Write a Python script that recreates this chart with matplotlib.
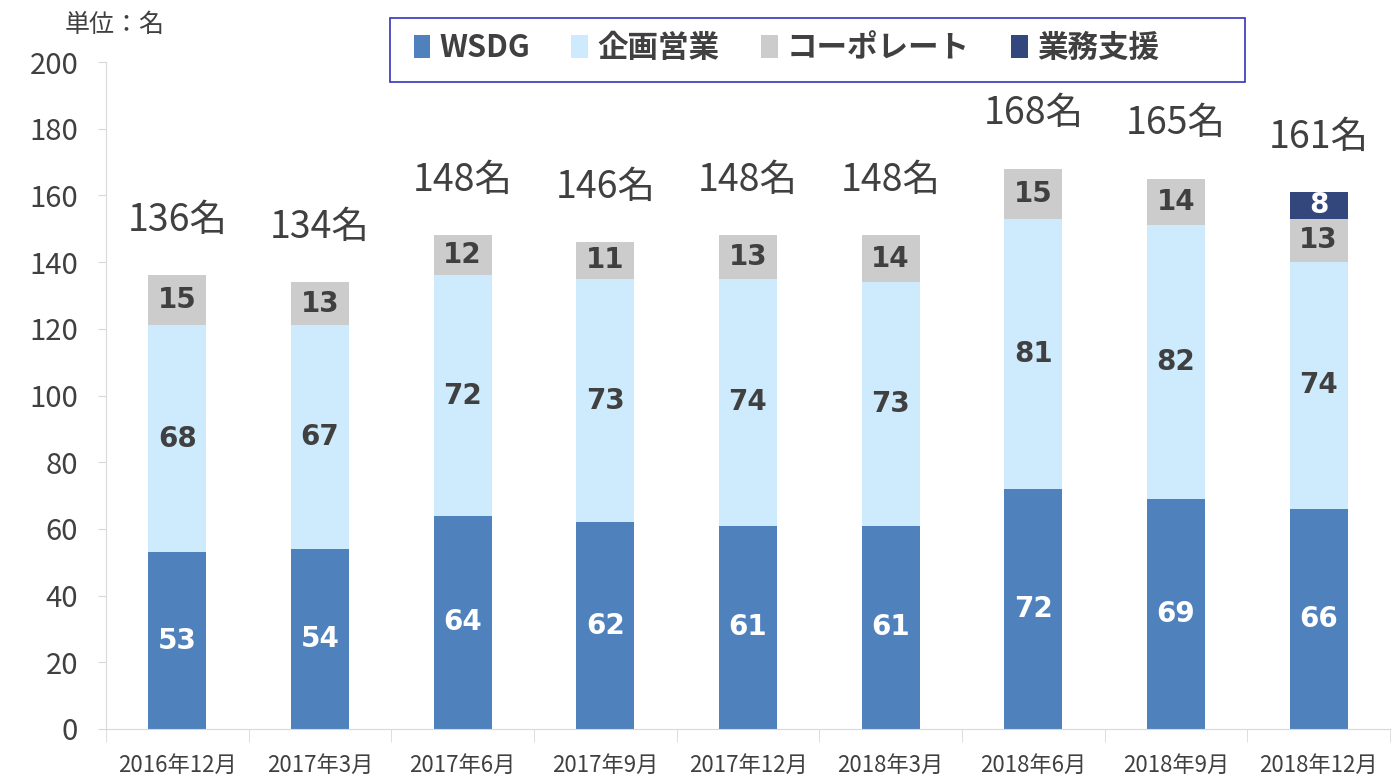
import matplotlib
matplotlib.use("Agg")
import matplotlib.pyplot as plt
from matplotlib.patches import Rectangle
import numpy as np

plt.rcParams['font.family'] = ['Noto Sans CJK JP', 'DejaVu Sans']

periods = ['2016年12月', '2017年3月', '2017年6月', '2017年9月', '2017年12月',
           '2018年3月', '2018年6月', '2018年9月', '2018年12月']
wsdg = [53, 54, 64, 62, 61, 61, 72, 69, 66]
kikaku = [68, 67, 72, 73, 74, 73, 81, 82, 74]
corporate = [15, 13, 12, 11, 13, 14, 15, 14, 13]
gyomu = [0, 0, 0, 0, 0, 0, 0, 0, 8]
series_names = ['WSDG', '企画営業', 'コーポレート', '業務支援']

colors = ['#4f81bd', '#cdebfd', '#cccccc', '#33477c']
label_colors = ['white', '#404040', '#404040', 'white']
text_gray = '#404040'

fig = plt.figure(figsize=(13.92, 7.75), dpi=100)
ax = fig.add_axes([106/1392, 1-729/775, 1-106/1392-2/1392, (729-62)/775])

x = np.arange(len(periods))
bottom = np.zeros(len(periods))
handles = []
for vals, col, lc, name in zip([wsdg, kikaku, corporate, gyomu], colors, label_colors, series_names):
    vals = np.array(vals, dtype=float)
    b = ax.bar(x, vals, 0.405, bottom=bottom, color=col, label=name)
    handles.append(b)
    for i, v in enumerate(vals):
        if v > 0:
            ax.text(x[i], bottom[i] + v/2, '%d' % v, ha='center', va='center',
                    fontsize=20, fontweight='bold', color=lc, family='DejaVu Sans')
    bottom += vals

# totals above each bar
for i, t in enumerate(bottom):
    ax.text(x[i], t + 16.5, '%d名' % t, ha='center', va='center', fontsize=27, color=text_gray)

ax.set_xlim(-0.5, len(periods) - 0.5)
ax.set_ylim(0, 200)
ax.set_yticks(range(0, 201, 20))
ax.tick_params(axis='y', labelsize=21, colors='#d9d9d9', labelcolor=text_gray, length=6, pad=14)
ax.set_xticks(x)
ax.set_xticklabels(periods)
ax.set_xticks(np.arange(-0.5, len(periods), 1), minor=True)
ax.tick_params(axis='x', which='major', length=0, labelsize=16, labelcolor=text_gray, pad=18)
ax.tick_params(axis='x', which='minor', length=9, color='#d9d9d9')

for s in ['top', 'right']:
    ax.spines[s].set_visible(False)
for s in ['left', 'bottom']:
    ax.spines[s].set_color('#d9d9d9')

fig.text(65/1392, 1-25/775, '単位：名', fontsize=18, color=text_gray, va='center')

# legend box
fig.patches.append(Rectangle((390/1392, 1-82/775), 855/1392, 64/775, transform=fig.transFigure,
                             facecolor='white', edgecolor='#3333bb', linewidth=1.2, zorder=0))
leg = fig.legend(handles=handles, labels=series_names, loc='center left', ncol=4,
                 bbox_to_anchor=(386/1392, 1-48/775), frameon=False,
                 handlelength=0.55, handleheight=0.75, handletextpad=0.3, columnspacing=1.35,
                 prop={'size': 22, 'weight': 'bold'})
for t in leg.get_texts():
    t.set_color(text_gray)

fig.savefig('out.png', dpi=100)
